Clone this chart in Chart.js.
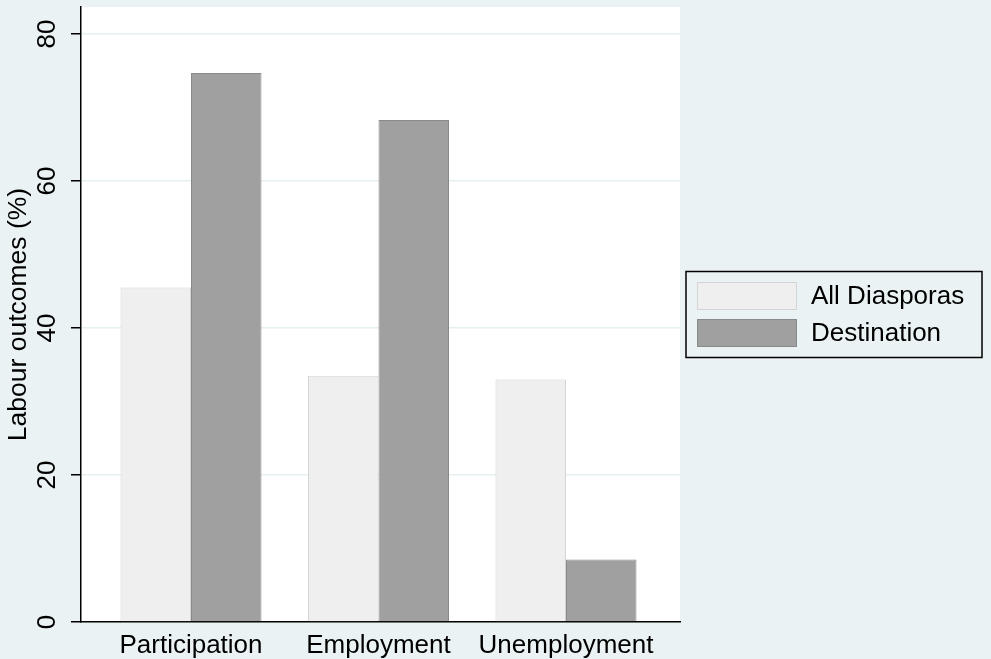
<!DOCTYPE html>
<html>
<head>
<meta charset="utf-8">
<script src="https://cdn.jsdelivr.net/npm/chart.js@4.4.0/dist/chart.umd.min.js"></script>
<style>
  html, body { margin: 0; padding: 0; background: #eaf2f3; overflow: hidden; }
  #wrap { width: 991px; height: 659px; position: relative; }
</style>
</head>
<body>
<div id="wrap"><canvas id="chart"></canvas></div>
<script>
// ---- data ----
const categories = ['Participation', 'Employment', 'Unemployment'];
const seriesNames = ['All Diasporas', 'Destination'];
const allDiasporas = [45.5, 33.5, 33.0];
const destination = [74.7, 68.3, 8.5];
const yTicks = [0, 20, 40, 60, 80];

const FONT = '"Liberation Sans", Arial, sans-serif';
const FS = 26;
Chart.defaults.font.family = FONT;
Chart.defaults.color = '#000';

// white plot region on the grey-blue page
const plotBg = {
  id: 'plotBg',
  beforeDraw(chart) {
    const { ctx, chartArea: a } = chart;
    ctx.save();
    ctx.fillStyle = '#ffffff';
    ctx.fillRect(a.left, a.top, a.right - a.left, a.bottom - a.top);
    ctx.restore();
  }
};

// rotated y tick labels (Stata style)
const yLabels = {
  id: 'yLabels',
  afterDraw(chart) {
    const { ctx } = chart;
    const y = chart.scales.y;
    ctx.save();
    ctx.font = FS + 'px ' + FONT;
    ctx.fillStyle = '#000';
    ctx.textAlign = 'center';
    ctx.textBaseline = 'middle';
    y.ticks.forEach(t => {
      ctx.save();
      ctx.translate(48, y.getPixelForValue(t.value));
      ctx.rotate(-Math.PI / 2);
      ctx.fillText(String(t.value), 0, 0);
      ctx.restore();
    });
    ctx.restore();
  }
};

// boxed legend to the right of the plot
const boxLegend = {
  id: 'boxLegend',
  afterDraw(chart) {
    const { ctx, chartArea: a } = chart;
    const left = a.right + 6;
    const top = (a.top + a.bottom) / 2 - 43;
    ctx.save();
    ctx.lineWidth = 1.5;
    ctx.strokeStyle = '#000';
    ctx.strokeRect(left, top, 296, 86);
    ctx.font = FS + 'px ' + FONT;
    ctx.textAlign = 'left';
    ctx.textBaseline = 'middle';
    chart.data.datasets.forEach((ds, i) => {
      const sy = top + 11 + i * 37;
      ctx.fillStyle = ds.backgroundColor;
      ctx.fillRect(left + 11.5, sy, 99, 27);
      ctx.lineWidth = 1;
      ctx.strokeStyle = ds.borderColor;
      ctx.strokeRect(left + 11.5, sy, 99, 27);
      ctx.fillStyle = '#000';
      ctx.fillText(ds.label, left + 125, sy + 14);
    });
    ctx.restore();
  }
};

new Chart(document.getElementById('chart'), {
  type: 'bar',
  data: {
    datasets: [
      {
        label: seriesNames[0],
        data: allDiasporas.map((v, i) => ({ x: i, y: v })),
        backgroundColor: '#efefef',
        borderColor: '#d4d4d4',
        borderWidth: 1,
        categoryPercentage: 0.752,
        barPercentage: 1.0
      },
      {
        label: seriesNames[1],
        data: destination.map((v, i) => ({ x: i, y: v })),
        backgroundColor: '#a0a0a0',
        borderColor: '#8a8a8a',
        borderWidth: 1,
        categoryPercentage: 0.752,
        barPercentage: 1.0
      }
    ]
  },
  options: {
    responsive: true,
    maintainAspectRatio: false,
    animation: false,
    layout: { padding: { top: 7, right: 311, left: 0, bottom: 0 } },
    plugins: {
      legend: { display: false },
      tooltip: { enabled: false }
    },
    scales: {
      x: {
        type: 'linear',
        offset: false,
        min: -0.5867,
        max: 2.608,
        grid: { display: false },
        border: { display: true, color: '#000', width: 1.5 },
        afterBuildTicks: s => { s.ticks = categories.map((c, i) => ({ value: i })); },
        afterFit: s => { s.height = 37; },
        ticks: {
          autoSkip: false,
          maxRotation: 0,
          padding: 0,
          font: { size: FS },
          color: '#000',
          callback: v => categories[v]
        }
      },
      y: {
        min: 0,
        max: 83.67,
        afterBuildTicks: s => { s.ticks = yTicks.map(v => ({ value: v })); },
        afterFit: s => { s.width = 81; },
        grid: {
          color: '#e6eff1',
          lineWidth: 1.5,
          drawTicks: true,
          tickLength: 10,
          tickColor: '#000',
          tickWidth: 1.5
        },
        border: { display: true, color: '#000', width: 1.5 },
        ticks: { display: false },
        title: {
          display: true,
          text: 'Labour outcomes (%)',
          font: { size: 26.5 },
          color: '#000',
          padding: { top: 3, bottom: 0 }
        }
      }
    }
  },
  plugins: [plotBg, yLabels, boxLegend]
});
</script>
</body>
</html>
